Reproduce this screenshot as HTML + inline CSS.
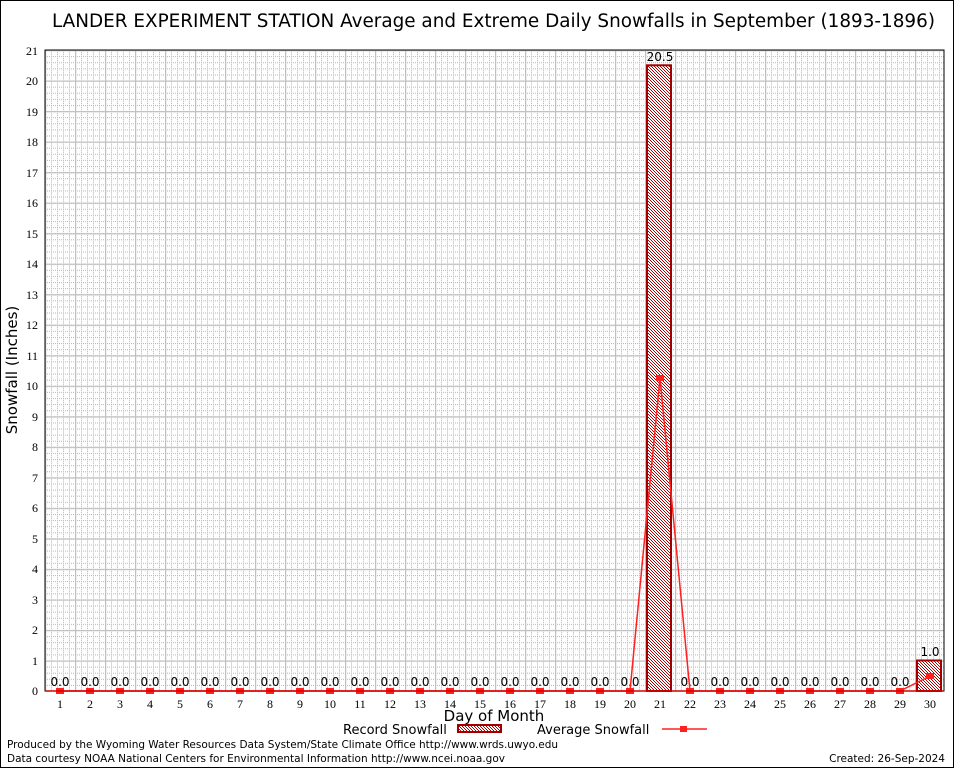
<!DOCTYPE html>
<html><head><meta charset="utf-8"><style>
html,body{margin:0;padding:0;background:#fff;}
svg{display:block;}
.s{font-family:"DejaVu Sans","Liberation Sans",sans-serif;}
.r{font-family:"Liberation Serif",serif;font-size:12px;}
</style></head><body>
<svg width="954" height="768" viewBox="0 0 954 768" xmlns="http://www.w3.org/2000/svg">
<defs>
<pattern id="minor" patternUnits="userSpaceOnUse" x="45" y="50" width="6" height="6.1048">
<line x1="0" y1="0.5" x2="6" y2="0.5" stroke="#b8b8b8" stroke-width="1" stroke-dasharray="1,1"/>
<line x1="0.5" y1="0" x2="0.5" y2="6.1" stroke="#b8b8b8" stroke-width="1" stroke-dasharray="1,1"/>
</pattern>
<pattern id="major" patternUnits="userSpaceOnUse" x="45" y="50" width="30" height="30.5238">
<line x1="0" y1="0" x2="30" y2="0" stroke="#c0c0c0" stroke-width="2.5"/>
<line x1="0" y1="0" x2="0" y2="30.5238" stroke="#c0c0c0" stroke-width="2.5"/>
</pattern>
<pattern id="hatch" patternUnits="userSpaceOnUse" width="3" height="3">
<rect width="3" height="3" fill="#fff"/>
<rect x="0" y="0" width="1" height="1" fill="#b00000"/>
<rect x="1" y="1" width="1" height="1" fill="#b00000"/>
<rect x="2" y="2" width="1" height="1" fill="#b00000"/>
</pattern>
</defs>
<rect x="0.5" y="0.5" width="953" height="767" fill="#fff" stroke="#000"/>
<text class="s" x="52" y="27" font-size="18.5" textLength="883" lengthAdjust="spacingAndGlyphs">LANDER EXPERIMENT STATION Average and Extreme Daily Snowfalls in September (1893-1896)</text>
<rect x="45" y="50" width="899" height="641" fill="url(#minor)"/>
<rect x="45" y="50" width="899" height="641" fill="url(#major)"/>
<rect x="45" y="50" width="899" height="641" fill="none" stroke="#000" stroke-width="1"/>
<rect x="647" y="65.3" width="24" height="625.7" fill="url(#hatch)" stroke="#a00000" stroke-width="2"/>
<rect x="917" y="660.5" width="24" height="30.5" fill="url(#hatch)" stroke="#a00000" stroke-width="2"/>
<g class="r" text-anchor="end">
<text x="38" y="695">0</text><text x="38" y="665">1</text><text x="38" y="634">2</text><text x="38" y="604">3</text><text x="38" y="573">4</text><text x="38" y="543">5</text><text x="38" y="512">6</text><text x="38" y="482">7</text><text x="38" y="451">8</text><text x="38" y="421">9</text><text x="38" y="390">10</text><text x="38" y="360">11</text><text x="38" y="329">12</text><text x="38" y="299">13</text><text x="38" y="268">14</text><text x="38" y="238">15</text><text x="38" y="207">16</text><text x="38" y="177">17</text><text x="38" y="146">18</text><text x="38" y="116">19</text><text x="38" y="85">20</text><text x="38" y="55">21</text>
</g>
<g class="r" text-anchor="middle">
<text x="60" y="708">1</text><text x="90" y="708">2</text><text x="120" y="708">3</text><text x="150" y="708">4</text><text x="180" y="708">5</text><text x="210" y="708">6</text><text x="240" y="708">7</text><text x="270" y="708">8</text><text x="300" y="708">9</text><text x="330" y="708">10</text><text x="360" y="708">11</text><text x="390" y="708">12</text><text x="420" y="708">13</text><text x="450" y="708">14</text><text x="480" y="708">15</text><text x="510" y="708">16</text><text x="540" y="708">17</text><text x="570" y="708">18</text><text x="600" y="708">19</text><text x="630" y="708">20</text><text x="660" y="708">21</text><text x="690" y="708">22</text><text x="720" y="708">23</text><text x="750" y="708">24</text><text x="780" y="708">25</text><text x="810" y="708">26</text><text x="840" y="708">27</text><text x="870" y="708">28</text><text x="900" y="708">29</text><text x="930" y="708">30</text>
</g>
<g class="s" font-size="12" text-anchor="middle">
<text x="60" y="686">0.0</text><text x="90" y="686">0.0</text><text x="120" y="686">0.0</text><text x="150" y="686">0.0</text><text x="180" y="686">0.0</text><text x="210" y="686">0.0</text><text x="240" y="686">0.0</text><text x="270" y="686">0.0</text><text x="300" y="686">0.0</text><text x="330" y="686">0.0</text><text x="360" y="686">0.0</text><text x="390" y="686">0.0</text><text x="420" y="686">0.0</text><text x="450" y="686">0.0</text><text x="480" y="686">0.0</text><text x="510" y="686">0.0</text><text x="540" y="686">0.0</text><text x="570" y="686">0.0</text><text x="600" y="686">0.0</text><text x="630" y="686">0.0</text><text x="660" y="61">20.5</text><text x="690" y="686">0.0</text><text x="720" y="686">0.0</text><text x="750" y="686">0.0</text><text x="780" y="686">0.0</text><text x="810" y="686">0.0</text><text x="840" y="686">0.0</text><text x="870" y="686">0.0</text><text x="900" y="686">0.0</text><text x="930" y="656">1.0</text>
</g>
<polyline fill="none" stroke="#ff2020" stroke-width="1.5" points="60,691 630,691 660,378 690,691 900,691 930,676"/>
<g fill="#ff2020">
<rect x="56" y="688" width="8" height="6"/><rect x="86" y="688" width="8" height="6"/><rect x="116" y="688" width="8" height="6"/><rect x="146" y="688" width="8" height="6"/><rect x="176" y="688" width="8" height="6"/><rect x="206" y="688" width="8" height="6"/><rect x="236" y="688" width="8" height="6"/><rect x="266" y="688" width="8" height="6"/><rect x="296" y="688" width="8" height="6"/><rect x="326" y="688" width="8" height="6"/><rect x="356" y="688" width="8" height="6"/><rect x="386" y="688" width="8" height="6"/><rect x="416" y="688" width="8" height="6"/><rect x="446" y="688" width="8" height="6"/><rect x="476" y="688" width="8" height="6"/><rect x="506" y="688" width="8" height="6"/><rect x="536" y="688" width="8" height="6"/><rect x="566" y="688" width="8" height="6"/><rect x="596" y="688" width="8" height="6"/><rect x="626" y="688" width="8" height="6"/><rect x="656" y="375" width="8" height="6"/><rect x="686" y="688" width="8" height="6"/><rect x="716" y="688" width="8" height="6"/><rect x="746" y="688" width="8" height="6"/><rect x="776" y="688" width="8" height="6"/><rect x="806" y="688" width="8" height="6"/><rect x="836" y="688" width="8" height="6"/><rect x="866" y="688" width="8" height="6"/><rect x="896" y="688" width="8" height="6"/><rect x="926" y="673" width="8" height="6"/>
</g>
<line x1="45" y1="691" x2="944" y2="691" stroke="#d00000" stroke-width="1.5"/>
<text class="s" x="494" y="721" font-size="15" text-anchor="middle">Day of Month</text>
<text class="s" transform="translate(17,370) rotate(-90)" font-size="15" text-anchor="middle">Snowfall (Inches)</text>
<text class="s" x="343" y="734" font-size="13">Record Snowfall</text>
<rect x="458" y="725" width="43" height="7" fill="url(#hatch)" stroke="#a00000" stroke-width="2"/>
<text class="s" x="537" y="734" font-size="13">Average Snowfall</text>
<line x1="662" y1="729" x2="707" y2="729" stroke="#ff2020" stroke-width="1.5"/>
<rect x="680" y="726" width="7" height="6" fill="#ff2020"/>
<text class="s" x="7" y="748" font-size="10.5" textLength="551">Produced by the Wyoming Water Resources Data System/State Climate Office http://www.wrds.uwyo.edu</text>
<text class="s" x="7" y="762" font-size="10.5" textLength="498">Data courtesy NOAA National Centers for Environmental Information http://www.ncei.noaa.gov</text>
<text class="s" x="945" y="762" font-size="10.5" text-anchor="end">Created:  26-Sep-2024</text>
</svg>
</body></html>
